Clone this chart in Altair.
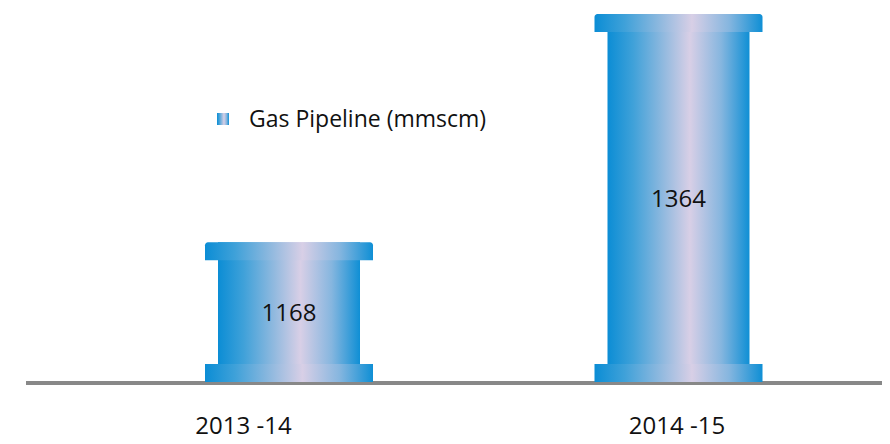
import altair as alt
import pandas as pd

years = ["2013 -14", "2014 -15"]
values = [1168, 1364]
base_value = 1048
legend_label = "Gas Pipeline (mmscm)"

df = pd.DataFrame({"year": years, "value": values})
df["base"] = base_value
df["mid"] = (df["value"] + df["base"]) / 2

grad = alt.Gradient(
    gradient="linear",
    stops=[
        alt.GradientStop(color="#0b8dd5", offset=0),
        alt.GradientStop(color="#3fa1d9", offset=0.18),
        alt.GradientStop(color="#93badf", offset=0.4),
        alt.GradientStop(color="#d8cfe6", offset=0.58),
        alt.GradientStop(color="#86b6df", offset=0.8),
        alt.GradientStop(color="#0f8fd5", offset=1),
    ],
    x1=0, x2=1, y1=0, y2=0,
)

FONT = "Open Sans"
W = 874
H = 374
x = alt.X("year:N", sort=years,
          scale=alt.Scale(type="point", range=[281, 670.5], padding=0),
          axis=alt.Axis(title=None, domain=False, ticks=False, labelAngle=0,
                        labelFontSize=24, labelFont=FONT, labelColor="#111",
                        labelPadding=32,
                        labelOffset={"condition": {"test": "datum.value === '2013 -14'", "value": -46},
                                     "value": -2}))
yscale = alt.Scale(domain=[base_value, 1369.2], zero=False, nice=False)
y_enc = alt.Y("value:Q", scale=yscale, axis=None)

base = alt.Chart(df)

baseline = base.mark_rule(color="#888888", strokeWidth=4).encode(
    x=alt.value(18), x2=alt.value(W), y=alt.value(H + 1))

body = base.mark_bar(size=142, color=grad).encode(
    x=x, y=y_enc, y2=alt.Y2("base:Q"))

top_flange = base.mark_bar(size=168, color=grad, y2Offset=18,
                           cornerRadiusTopLeft=3, cornerRadiusTopRight=3).encode(
    x=x, y=y_enc, y2=alt.Y2("value:Q"))

bottom_flange = base.mark_bar(size=168, color=grad, y2Offset=-18).encode(
    x=x, y=alt.Y("base:Q", scale=yscale, axis=None), y2=alt.Y2("base:Q"))

labels = base.mark_text(fontSize=24, font=FONT, color="#111", dy=2).encode(
    x=x, y=alt.Y("mid:Q", scale=yscale, axis=None), text=alt.Text("value:Q"))

leg = pd.DataFrame({"label": [legend_label]})
leg_sym = alt.Chart(leg).mark_rect(color=grad).encode(
    x=alt.value(209), x2=alt.value(221), y=alt.value(105), y2=alt.value(117))
leg_txt = alt.Chart(leg).mark_text(align="left", baseline="middle", fontSize=23,
                                   font=FONT, color="#111").encode(
    x=alt.value(241), y=alt.value(112), text="label:N")

chart = alt.layer(baseline, body, top_flange, bottom_flange, labels, leg_sym, leg_txt).properties(
    width=W, height=H, autosize=alt.AutoSizeParams(type="none"),
    padding={"left": 0, "top": 0, "right": 0, "bottom": 62},
    background="white",
).configure_view(stroke=None)

chart.save("out.html", embed_options={"renderer": "svg", "actions": False})
